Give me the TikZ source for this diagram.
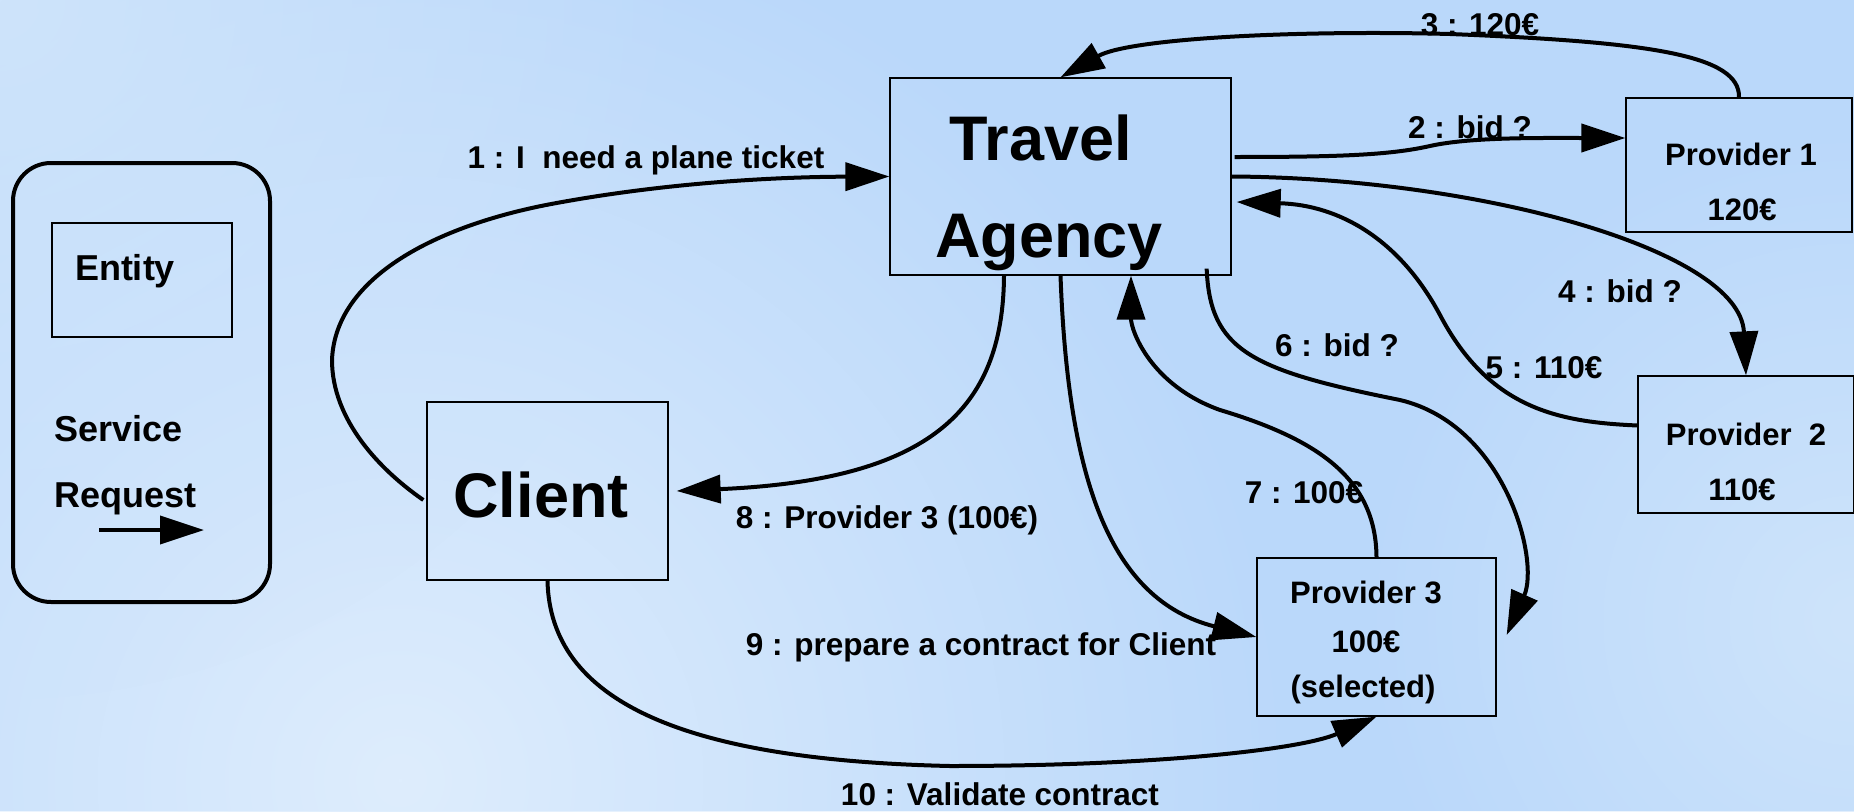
\documentclass[tikz,border=0pt]{standalone}
\usepackage{fontspec}
\setmainfont{Liberation Sans}
\usetikzlibrary{arrows.meta,calc,fadings}
\definecolor{bgbase}{RGB}{186,216,250}
\definecolor{bglight}{RGB}{222,237,253}
\definecolor{bgmid}{RGB}{206,228,251}
\tikzfading[name=blob, inner color=transparent!0, outer color=transparent!100]
\begin{document}
\begin{tikzpicture}[x=1pt,y=-1pt,
  box/.style={draw=black,line width=1.3pt,inner sep=0pt},
  conn/.style={line width=4pt,-{Triangle[length=44pt,width=28pt]}},
  lbl/.style={anchor=base,inner sep=0pt,font=\fontsize{31.5}{36}\selectfont\bfseries},
  ptxt/.style={anchor=base,inner sep=0pt,font=\fontsize{31}{36}\selectfont\bfseries},
  big/.style={anchor=base,inner sep=0pt,font=\fontsize{63}{70}\selectfont\bfseries},
  leg/.style={anchor=base west,inner sep=0pt,font=\fontsize{36}{40}\selectfont\bfseries},
]
\useasboundingbox (0,0) rectangle (1854,811);
% background
\begin{scope}
\clip (0,0) rectangle (1854,811);
\fill[bgbase] (0,0) rectangle (1854,811);
\fill[bglight,path fading=blob] (400,780) circle[radius=900];
\fill[bgmid,path fading=blob] (0,0) circle[radius=700];
\fill[bgmid,path fading=blob] (1854,620) circle[radius=500];
\end{scope}

% legend
\node[draw=black,line width=4pt,rounded corners=38pt,inner sep=0pt,minimum width=257,minimum height=439] (legend) at (141.5,382.5) {};
\node[box,minimum width=180,minimum height=114] (entity) at (142,280) {};
\node[anchor=base,inner sep=0pt,font=\fontsize{36}{40}\selectfont\bfseries] (entitytxt) at (125,280) {Entity};
\node[leg] (service) at (54,441) {Service};
\node[leg] (request) at (54,507) {Request};
\coordinate (legA) at (99,530);
\coordinate (legB) at (204,530);
\draw[conn] (legA) -- (legB);

% main boxes
\node[box,minimum width=341,minimum height=197] (ta) at (1060.5,176.5) {};
\node[big] (tat1) at (1041,160) {Travel};
\node[big] (tat2) at (1049,257) {Agency};

\node[box,minimum width=241,minimum height=178] (cl) at (547.5,491) {};
\node[big] (clt) at (541,517) {Client};

\node[box,minimum width=226,minimum height=134] (p1) at (1739,165) {};
\node[ptxt] (p1a) at (1741,165) {Provider 1};
\node[ptxt] (p1b) at (1742,220) {120€};

\node[box,minimum width=216,minimum height=137] (p2) at (1746,444.5) {};
\node[ptxt] (p2a) at (1746,445) {Provider\ \ 2};
\node[ptxt] (p2b) at (1742,500) {110€};

\node[box,minimum width=239,minimum height=158] (p3) at (1376.5,637) {};
\node[ptxt] (p3a) at (1366,603) {Provider 3};
\node[ptxt] (p3b) at (1366,652) {100€};
\node[ptxt] (p3c) at (1363,697) {(selected)};

% connectors
\draw[conn] ($(cl.west)+(-3,9)$) .. controls (380,470) and (332,420) .. (332,360)
  .. controls (335,280) and (430,228) .. (546,205)
  .. controls (650,185) and (760,177) .. (ta.west);
\draw[conn] ($(ta.east)+(3,-19.5)$) .. controls (1340,157) and (1390,155) .. (1430,146)
  .. controls (1470,137) and (1540,138) .. ($(p1.west)+(0,-27)$);
\draw[conn] (p1.north) .. controls (1740,55) and (1650,42) .. (1450,34)
  .. controls (1300,30) and (1130,38) .. (ta.north);
\draw[conn] (ta.east) .. controls (1480,178) and (1740,250) .. (p2.north);
\draw[conn] ($(p2.west)+(0,-19)$) .. controls (1560,422) and (1490,410) .. (1440,315)
  .. controls (1400,240) and (1340,205) .. ($(ta.east)+(5,25.5)$);
\draw[conn] ($(ta.south east)+(-25,-7)$) .. controls (1210,350) and (1250,370) .. (1400,400)
  .. controls (1505,425) and (1540,560) .. ($(p3.east)+(10,-2)$);
\draw[conn] (p3.north) .. controls (1376,480) and (1320,440) .. (1220,410)
  .. controls (1150,385) and (1131,330) .. ($(ta.south)+(70.5,0)$);
\draw[conn] ($(ta.south)+(-56.5,0)$) .. controls (1003,410) and (930,480) .. ($(cl.east)+(8,0)$);
\draw[conn] (ta.south) .. controls (1068,480) and (1110,600) .. (p3.west);
\draw[conn] (cl.south) .. controls (550,700) and (680,760) .. (950,766)
  .. controls (1150,766) and (1300,750) .. (p3.south);

% labels
\node[lbl] (l1) at (646,168) {1 : I\ \ need a plane ticket};
\node[lbl] (l2) at (1470,138) {2 : bid ?};
\node[lbl] (l3) at (1480,35) {3 : 120€};
\node[lbl] (l4) at (1620,302) {4 : bid ?};
\node[lbl] (l5) at (1544,378) {5 : 110€};
\node[lbl] (l6) at (1337,356) {6 : bid ?};
\node[lbl] (l7) at (1304,503) {7 : 100€};
\node[lbl] (l8) at (887,528) {8 : Provider 3 (100€)};
\node[lbl] (l9) at (981,655) {9 : prepare a contract for Client};
\node[lbl] (l10) at (1000,805) {10 : Validate contract};
\end{tikzpicture}
\end{document}
